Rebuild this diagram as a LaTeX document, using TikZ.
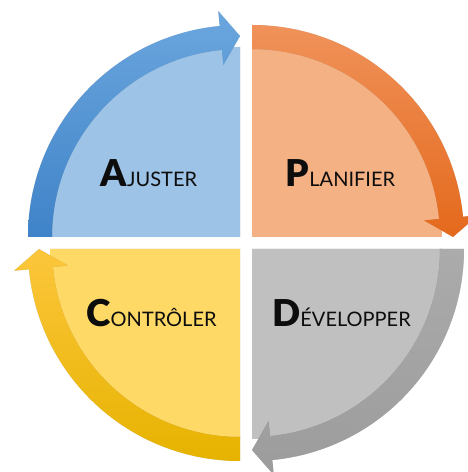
\documentclass[tikz,border=0pt]{standalone}
\usepackage{fontspec}
\setmainfont{Lato}
\newfontfamily\latoheavy{Lato Black}
\usetikzlibrary{calc}
\definecolor{bluefill}{HTML}{9DC3E6}
\definecolor{bluetop}{HTML}{6BA6DE}
\definecolor{bluebot}{HTML}{3F83C8}
\definecolor{orangefill}{HTML}{F4B183}
\definecolor{orangetop}{HTML}{F0925A}
\definecolor{orangebot}{HTML}{E4691C}
\definecolor{grayfill}{HTML}{C0C0C0}
\definecolor{graytop}{HTML}{ABABAB}
\definecolor{graybot}{HTML}{9C9C9C}
\definecolor{yellowfill}{HTML}{FFD966}
\definecolor{yellowtop}{HTML}{FCC63C}
\definecolor{yellowbot}{HTML}{E6B300}
\newcommand{\cycarrow}[4]{($(#1)+(#2:212)$) arc[start angle=#2, end angle=#3, radius=212] -- ($(#1)+(#3:227)$) -- ($(#1)+(#4:201)$) -- ($(#1)+(#3:173)$) -- ($(#1)+(#3:188)$) arc[start angle=#3, end angle=#2, radius=188] -- cycle}
\newcommand{\quadshape}[3]{(#1) -- ($(#1)+(#2:190)$) arc[start angle=#2, end angle=#3, radius=190] -- cycle}
\newcommand{\biginit}[1]{{\fontsize{37}{37}\selectfont\latoheavy #1}}
\newcommand{\restcaps}[1]{{\fontsize{20}{20}\selectfont #1}}
\begin{document}
\begin{tikzpicture}[x=1pt,y=1pt,
  shadowA/.style={fill=black, opacity=0.10, shift={(2.2,-2.8)}},
  shadowB/.style={fill=black, opacity=0.14, shift={(1,-1.4)}},
  lbl/.style={anchor=base, text=black!95, inner sep=0pt}]
\useasboundingbox (0,0) rectangle (467,472);
\fill[white] (0,0) rectangle (467,472);
\coordinate (cTL) at (240,235);
\coordinate (cTR) at (252,235);
\coordinate (cBL) at (240,223);
\coordinate (cBR) at (252,223);
% quadrant fills
\foreach \c/\a/\b/\col in {cTL/180/90/bluefill, cTR/90/0/orangefill, cBR/0/-90/grayfill, cBL/-90/-180/yellowfill}{
  \fill[shadowA] \quadshape{\c}{\a}{\b};
  \fill[shadowB] \quadshape{\c}{\a}{\b};
  \fill[\col] \quadshape{\c}{\a}{\b};
}
% arrows
\foreach \c/\s/\h/\t/\ct/\cb in {cTL/180/95.5/90/bluetop/bluebot, cTR/90/5.5/0/orangetop/orangebot, cBR/0/-84.5/-90/graytop/graybot, cBL/-90/-174.5/-180/yellowtop/yellowbot}{
  \fill[shadowA] \cycarrow{\c}{\s}{\h}{\t};
  \fill[shadowB] \cycarrow{\c}{\s}{\h}{\t};
  \shade[top color=\ct, bottom color=\cb] \cycarrow{\c}{\s}{\h}{\t};
}
% labels
\node[lbl] (ajuster) at (149,285) {\biginit{A}\restcaps{JUSTER}};
\node[lbl] (planifier) at (340.5,285) {\biginit{P}\restcaps{LANIFIER}};
\node[lbl] (controler) at (151.5,145) {\biginit{C}\restcaps{ONTRÔLER}};
\node[lbl] (developper) at (341.5,145) {\biginit{D}\restcaps{ÉVELOPPER}};
\end{tikzpicture}
\end{document}
